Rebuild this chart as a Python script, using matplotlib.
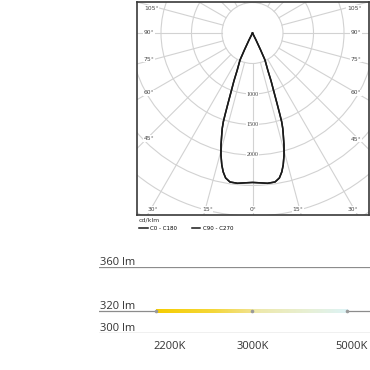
import numpy as np
import matplotlib
matplotlib.use("Agg")
import matplotlib.pyplot as plt
from matplotlib.patches import Circle
from matplotlib.colors import LinearSegmentedColormap
from matplotlib.transforms import ScaledTranslation, blended_transform_factory

# ---------------- data ----------------
gamma_deg = [0, 3, 5.7, 8.6, 10.5, 11.9, 13.1, 14.5, 15.7, 16.8, 17.6, 18.2, 18.6,
             19.2, 20.0, 21.2, 22.3, 24.8, 25.5, 26.5, 28.0]
c0_c180 = [2450, 2460, 2476, 2470, 2417, 2328, 2221, 2065, 1907, 1746, 1640, 1530, 1400,
           1220, 1030, 840, 665, 488, 309, 130, 0]
c90_c270 = [2450, 2460, 2476, 2470, 2417, 2328, 2221, 2065, 1907, 1746, 1640, 1530, 1400,
            1220, 1030, 840, 665, 488, 309, 130, 0]
ring_values = [500, 1000, 1500, 2000, 2500, 3000, 3500]
ring_labels = [1000, 1500, 2000]
angle_labels = [0, 15, 30, 45, 60, 75, 90, 105]

cct_labels = ["2200K", "3000K", "5000K"]
flux_lm = [320, 320, 320]
flux_levels = [360, 320, 300]

# ---------------- figure ----------------
W = H = 370
fig = plt.figure(figsize=(3.7, 3.7), dpi=100)
plt.rcParams['font.family'] = ['Open Sans', 'DejaVu Sans']

S = 500 / 30.5          # cd/klm per pixel
cx, cy = 252.5, 33.0    # polar centre in pixels
bx0, bx1, by0, by1 = 137.0, 368.5, 2.0, 214.5

ax = fig.add_axes([bx0 / W, (H - by1) / H, (bx1 - bx0) / W, (by1 - by0) / H])
ax.set_xlim((bx0 - cx) * S, (bx1 - cx) * S)
ax.set_ylim(-(by1 - cy) * S, (cy - by0) * S)
ax.set_xticks([]); ax.set_yticks([])
for sp in ax.spines.values():
    sp.set_color('#3a3a3a'); sp.set_linewidth(1.2)

grid_kw = dict(color='#d2d2d2', lw=0.8, zorder=1)
for r in ring_values:
    ax.add_patch(Circle((0, 0), r, fill=False, ec='#d2d2d2', lw=0.8, zorder=1))
for a in range(0, 360, 15):
    t = np.radians(a)
    ax.plot([500 * np.sin(t), 4000 * np.sin(t)], [-500 * np.cos(t), -4000 * np.cos(t)], **grid_kw)

def curve(vals):
    g = np.radians(np.array(gamma_deg))
    I = np.array(vals, dtype=float)
    ang = np.concatenate([-g[::-1], g[1:]])
    ii = np.concatenate([I[::-1], I[1:]])
    return ii * np.sin(ang), -ii * np.cos(ang)

x90, y90 = curve(c90_c270)
l2, = ax.plot(x90, y90, color='#1a1a1a', lw=1.1, zorder=4, label='C90 - C270')
x0, y0 = curve(c0_c180)
l1, = ax.plot(x0, y0, color='#1a1a1a', lw=1.1, zorder=5, label='C0 - C180')

lab_kw = dict(fontsize=4.3, color='#444444', family=['DejaVu Sans'], zorder=6,
              bbox=dict(fc='white', ec='none', pad=0.4))
xl, xr = ax.get_xlim(); yb, yt = ax.get_ylim()
ins = 7 * S
for a in angle_labels:
    t = np.radians(a)
    if a <= 30:
        yy = yb + 5 * S
        xx = -yy * np.tan(t) if a else 0.0
        for sgn in ([1, -1] if a else [1]):
            ax.text(sgn * xx - (2 * S if a else 0) * sgn, yy, f"{a}°", ha='center', va='center', **lab_kw)
    else:
        for sgn, xe in ((-1, xl + ins), (1, xr - ins)):
            yy = -abs(xe) / np.tan(t) + (3 * S if a < 90 else 0)
            yy = min(yy, yt - 6 * S)
            ax.text(xe, yy, f"{a}°", ha='left' if sgn < 0 else 'right', va='center', **lab_kw)
for r in ring_labels:
    ax.text(0, -r, str(r), ha='center', va='center', **{**lab_kw, 'family': ['Liberation Serif']})

fig.text(139 / W, 1 - 220 / H, 'cd/klm', fontsize=4.5, color='#333333',
         family=['DejaVu Sans'], ha='left', va='center')
fig.legend(handles=[l1, l2], loc='center left', bbox_to_anchor=(139 / W, 1 - 228.5 / H),
           ncol=2, frameon=False, handlelength=1.6, handletextpad=0.4,
           columnspacing=2.6, borderpad=0, borderaxespad=0,
           prop=dict(family=['DejaVu Sans'], size=4.0))

# ---------------- lumen / CCT panel ----------------
px_left, px_right = 99.0, 370.0
y300, y360 = 333.3, 267.3
ax2 = fig.add_axes([px_left / W, (H - y300) / H, (px_right - px_left) / W, (y300 - y360) / H])
u = 95.65
ax2.axis('off')

for lv in flux_levels:
    ax2.axhline(lv, color='#8c8c8c', lw=0.9, zorder=1)
    tr = blended_transform_factory(ax2.transAxes, ax2.transData) + \
        ScaledTranslation(0, 2.2 / 100, fig.dpi_scale_trans)
    ax2.text(0.004, lv, f"{lv} lm", transform=tr, ha='left', va='baseline',
             fontsize=8, color='#333333')

idx = np.arange(len(cct_labels))
cmap = LinearSegmentedColormap.from_list('cct', [
    (0.0, '#f6cd00'), (0.3, '#f4d73a'), (0.49, '#f1e189'), (0.51, '#eee8a8'),
    (0.8, '#e7f0d6'), (1.0, '#ddf3f6')])
grad = np.linspace(0, 1, 256).reshape(1, -1)
ax2.imshow(grad, cmap=cmap, aspect='auto', extent=(idx[0], idx[-1], 318.6, 321.4),
           zorder=2, interpolation='bilinear')
ax2.plot(idx, flux_lm, 'o', ms=2.6, color='#9a9a9a', mec='none', zorder=3)
ax2.set_xlim(-(156 - px_left) / u, 2 + (px_right - 347.3) / u)
ax2.set_ylim(300, 360)

offs = [13.7, 1.5, 4.4]
for i, lab in enumerate(cct_labels):
    tr = ax2.transData + ScaledTranslation(offs[i] / 100, -13.5 / 100, fig.dpi_scale_trans)
    ax2.text(idx[i], 300, lab, transform=tr, ha='center', va='center',
             fontsize=8, color='#333333')

fig.savefig('out.png', dpi=100)
